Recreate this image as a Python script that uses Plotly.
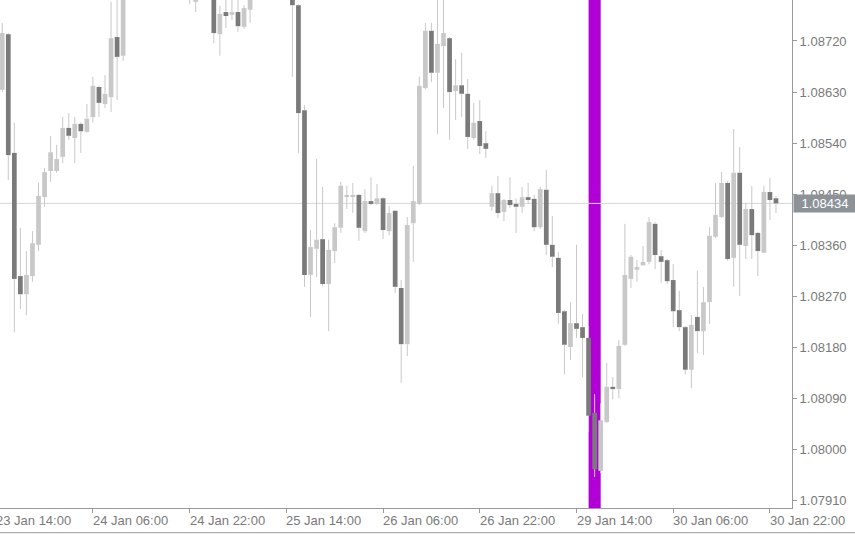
import pandas as pd
import plotly.graph_objects as go

# ---------------- data (EURUSD, H1) ----------------
start_time = "2024-01-23 14:00"
end_time = "2024-01-30 23:00"

opens = [
    1.08600, 1.08634, 1.08732, 1.08523, 1.08306, 1.08274, 1.08306, 1.08361, 1.08445, 1.08491,
    1.08491, 1.08516, 1.08567, 1.08549, 1.08574, 1.08560, 1.08586, 1.08639, 1.08609, 1.08621,
    1.08727, 1.08694, 1.08810, 1.08845, 1.08880, 1.08862, 1.08915, 1.08940, 1.08912, 1.08880,
    1.08845, 1.08820, 1.08838, 1.08789, 1.08830, 1.08865, 1.08840, 1.08732, 1.08771, 1.08766,
    1.08771, 1.08745, 1.08775, 1.08815, 1.08850, 1.08828, 1.08870, 1.08845, 1.08822, 1.08810,
    1.08783, 1.08598, 1.08308, 1.08354, 1.08371, 1.08292, 1.08350, 1.08391, 1.08445, 1.08445,
    1.08449, 1.08385, 1.08438, 1.08433, 1.08443, 1.08385, 1.08421, 1.08285, 1.08186, 1.08399,
    1.08433, 1.08637, 1.08738, 1.08664, 1.08711, 1.08725, 1.08632, 1.08642, 1.08627, 1.08549,
    1.08579, 1.08540, 1.08428, 1.08452, 1.08419, 1.08440, 1.08433, 1.08428, 1.08445, 1.08442,
    1.08392, 1.08458, 1.08361, 1.08338, 1.08244, 1.08181, 1.08223, 1.08216, 1.08197, 1.08065,
    1.07963, 1.08049, 1.08111, 1.08107, 1.08185, 1.08301, 1.08317, 1.08325, 1.08331, 1.08398,
    1.08341, 1.08334, 1.08299, 1.08246, 1.08216, 1.08141, 1.08234, 1.08209, 1.08260, 1.08375,
    1.08410, 1.08470, 1.08338, 1.08488, 1.08359, 1.08424, 1.08382, 1.08347, 1.08454, 1.08443,
]
highs = [
    1.08640, 1.08752, 1.08734, 1.08576, 1.08391, 1.08350, 1.08385, 1.08470, 1.08496, 1.08553,
    1.08537, 1.08586, 1.08593, 1.08586, 1.08577, 1.08609, 1.08657, 1.08641, 1.08660, 1.08789,
    1.08801, 1.08827, 1.08860, 1.08895, 1.08900, 1.08930, 1.08958, 1.08950, 1.08925, 1.08890,
    1.08858, 1.08855, 1.08848, 1.08845, 1.08878, 1.08875, 1.08850, 1.08782, 1.08801, 1.08798,
    1.08796, 1.08783, 1.08830, 1.08865, 1.08862, 1.08885, 1.08878, 1.08852, 1.08835, 1.08818,
    1.08785, 1.08607, 1.08387, 1.08512, 1.08463, 1.08370, 1.08399, 1.08472, 1.08465, 1.08470,
    1.08451, 1.08459, 1.08480, 1.08468, 1.08445, 1.08429, 1.08422, 1.08299, 1.08410, 1.08500,
    1.08657, 1.08752, 1.08752, 1.08800, 1.08798, 1.08727, 1.08688, 1.08699, 1.08653, 1.08611,
    1.08616, 1.08561, 1.08465, 1.08482, 1.08442, 1.08480, 1.08443, 1.08463, 1.08470, 1.08449,
    1.08463, 1.08493, 1.08412, 1.08348, 1.08246, 1.08260, 1.08361, 1.08239, 1.08218, 1.08098,
    1.08082, 1.08153, 1.08128, 1.08193, 1.08398, 1.08343, 1.08334, 1.08359, 1.08410, 1.08401,
    1.08352, 1.08336, 1.08327, 1.08280, 1.08218, 1.08237, 1.08315, 1.08287, 1.08392, 1.08470,
    1.08489, 1.08473, 1.08565, 1.08533, 1.08435, 1.08465, 1.08384, 1.08465, 1.08479, 1.08447,
]
lows = [
    1.08590, 1.08630, 1.08475, 1.08207, 1.08248, 1.08237, 1.08296, 1.08350, 1.08428, 1.08472,
    1.08488, 1.08505, 1.08546, 1.08505, 1.08523, 1.08558, 1.08576, 1.08586, 1.08602, 1.08595,
    1.08616, 1.08685, 1.08802, 1.08835, 1.08850, 1.08855, 1.08900, 1.08895, 1.08866, 1.08828,
    1.08808, 1.08805, 1.08785, 1.08771, 1.08818, 1.08822, 1.08716, 1.08694, 1.08743, 1.08757,
    1.08736, 1.08741, 1.08752, 1.08805, 1.08815, 1.08820, 1.08832, 1.08810, 1.08802, 1.08657,
    1.08523, 1.08287, 1.08234, 1.08304, 1.08288, 1.08209, 1.08329, 1.08382, 1.08424, 1.08417,
    1.08368, 1.08382, 1.08431, 1.08431, 1.08371, 1.08378, 1.08276, 1.08118, 1.08165, 1.08331,
    1.08431, 1.08635, 1.08648, 1.08556, 1.08602, 1.08546, 1.08581, 1.08586, 1.08530, 1.08546,
    1.08521, 1.08514, 1.08421, 1.08408, 1.08403, 1.08426, 1.08382, 1.08417, 1.08433, 1.08385,
    1.08389, 1.08343, 1.08322, 1.08222, 1.08133, 1.08158, 1.08197, 1.08128, 1.08031, 1.07952,
    1.07959, 1.08047, 1.08089, 1.08091, 1.08183, 1.08285, 1.08296, 1.08324, 1.08327, 1.08318,
    1.08294, 1.08292, 1.08216, 1.08209, 1.08133, 1.08109, 1.08170, 1.08167, 1.08222, 1.08373,
    1.08408, 1.08333, 1.08287, 1.08271, 1.08336, 1.08336, 1.08306, 1.08347, 1.08405, 1.08417,
]
closes = [
    1.08634, 1.08734, 1.08519, 1.08301, 1.08274, 1.08308, 1.08364, 1.08447, 1.08489, 1.08524,
    1.08512, 1.08567, 1.08553, 1.08574, 1.08561, 1.08583, 1.08641, 1.08611, 1.08627, 1.08725,
    1.08692, 1.08810, 1.08845, 1.08880, 1.08862, 1.08915, 1.08940, 1.08912, 1.08880, 1.08845,
    1.08820, 1.08838, 1.08808, 1.08830, 1.08865, 1.08840, 1.08734, 1.08768, 1.08764, 1.08771,
    1.08746, 1.08778, 1.08815, 1.08850, 1.08828, 1.08870, 1.08845, 1.08822, 1.08810, 1.08783,
    1.08593, 1.08308, 1.08357, 1.08370, 1.08292, 1.08352, 1.08392, 1.08465, 1.08449, 1.08449,
    1.08391, 1.08438, 1.08433, 1.08443, 1.08387, 1.08417, 1.08287, 1.08186, 1.08396, 1.08438,
    1.08641, 1.08738, 1.08664, 1.08715, 1.08734, 1.08630, 1.08642, 1.08627, 1.08551, 1.08576,
    1.08535, 1.08530, 1.08452, 1.08417, 1.08440, 1.08431, 1.08428, 1.08445, 1.08440, 1.08392,
    1.08459, 1.08361, 1.08340, 1.08241, 1.08185, 1.08223, 1.08213, 1.08197, 1.08060, 1.07966,
    1.08052, 1.08111, 1.08107, 1.08183, 1.08308, 1.08340, 1.08322, 1.08331, 1.08401, 1.08343,
    1.08331, 1.08297, 1.08244, 1.08216, 1.08141, 1.08220, 1.08209, 1.08260, 1.08377, 1.08414,
    1.08470, 1.08336, 1.08488, 1.08361, 1.08424, 1.08378, 1.08350, 1.08454, 1.08440, 1.08434,
]

tick_times = [
    "2024-01-23 14:00", "2024-01-24 06:00", "2024-01-24 22:00", "2024-01-25 14:00",
    "2024-01-26 06:00", "2024-01-26 22:00", "2024-01-29 14:00", "2024-01-30 06:00",
    "2024-01-30 22:00",
]
price_ticks = [1.07910, 1.08000, 1.08090, 1.08180, 1.08270, 1.08360,
               1.08450, 1.08540, 1.08630, 1.08720]
highlight_start = "2024-01-29 16:00"
highlight_end = "2024-01-29 18:00"

# ---------------- styling ----------------
BULL = "#c8c8c8"
BEAR = "#7a7a7a"
WICK = "#c8c8c8"
AXIS = "#9a9a9a"
TXT = "#7a7a7a"
FONT = "Liberation Sans, Arial, sans-serif"
FS = 13
W, H = 855, 534
ML, MR, MT, MB = 0, 63, 0, 26
PW, PH = W - ML - MR, H - MT - MB

X_RANGE = [0.6286, 131.65]
Y_RANGE = [1.078975, 1.087922]

# ---------------- build ----------------
times = pd.date_range(start_time, end_time, freq="h")
times = times[times.dayofweek < 5]
pos = {t: i for i, t in enumerate(times)}
idx = list(range(len(times)))

px_price = (Y_RANGE[1] - Y_RANGE[0]) / PH

bases, heights, colors = [], [], []
wx, wy = [], []
for i, (o, h, l, c) in enumerate(zip(opens, highs, lows, closes)):
    top, bot = max(o, c), min(o, c)
    bases.append(bot)
    heights.append(max(top - bot, px_price))
    colors.append(BULL if c >= o else BEAR)
    wx += [i, i, None, i, i, None]
    wy += [top, h, None, l, bot, None]

fig = go.Figure()
fig.add_trace(go.Scatter(x=wx, y=wy, mode="lines",
                         line=dict(color=WICK, width=1), hoverinfo="skip"))
fig.add_trace(go.Bar(x=idx, y=heights, base=bases, width=0.78,
                     marker=dict(color=colors, line=dict(width=0)),
                     hoverinfo="skip"))

# highlight band
fig.add_shape(type="rect", xref="x", yref="paper",
              x0=pos[pd.Timestamp(highlight_start)], x1=pos[pd.Timestamp(highlight_end)],
              y0=0, y1=1, fillcolor="#b000d6", line=dict(width=0), layer="below")
# last price line
last_price = closes[-1]
fig.add_shape(type="line", xref="paper", yref="y", x0=0, x1=1,
              y0=last_price, y1=last_price, line=dict(color="#d6d6d6", width=1),
              layer="below")
# bottom window border
fig.add_shape(type="line", xref="paper", yref="paper", x0=0, x1=W / PW,
              y0=-(24.7 / PH), y1=-(24.7 / PH), line=dict(color=AXIS, width=1))

tick_idx = [pos[pd.Timestamp(t)] for t in tick_times]
annotations = []
for t, i in zip(tick_times, tick_idx):
    annotations.append(dict(
        text=pd.Timestamp(t).strftime("%d %b %H:%M"),
        xref="paper", x=(i - X_RANGE[0]) / (X_RANGE[1] - X_RANGE[0]),
        xanchor="left", xshift=-2,
        yref="paper", y=0, yanchor="middle", yshift=-12.7,
        showarrow=False, font=dict(family=FONT, size=FS, color=TXT)))
annotations.append(dict(
    text=f"{last_price:.5f}", xref="paper", x=1, xanchor="left", xshift=1,
    yref="y", y=last_price, yanchor="middle", showarrow=False,
    bgcolor="#8d9299", width=62, height=17, borderpad=0, align="center",
    font=dict(family=FONT, size=FS, color="#ffffff")))

fig.update_layout(
    width=W, height=H, margin=dict(l=ML, r=MR, t=MT, b=MB, pad=0),
    paper_bgcolor="#ffffff", plot_bgcolor="#ffffff", showlegend=False,
    annotations=annotations,
    xaxis=dict(range=X_RANGE, showgrid=False, zeroline=False, showline=True,
               linecolor=AXIS, linewidth=1, ticks="outside", ticklen=4,
               tickcolor=AXIS, tickvals=tick_idx, showticklabels=False,
               fixedrange=True),
    yaxis=dict(range=Y_RANGE, side="right", showgrid=False, zeroline=False,
               showline=True, linecolor=AXIS, linewidth=1, ticks="outside",
               ticklen=4, tickcolor=AXIS, tickvals=price_ticks,
               ticktext=[f"{v:.5f}" for v in price_ticks],
               tickfont=dict(family=FONT, size=FS, color=TXT), fixedrange=True),
)

fig.write_html("out.html", config={"displayModeBar": False},
               post_script="document.body.style.margin='0';")
